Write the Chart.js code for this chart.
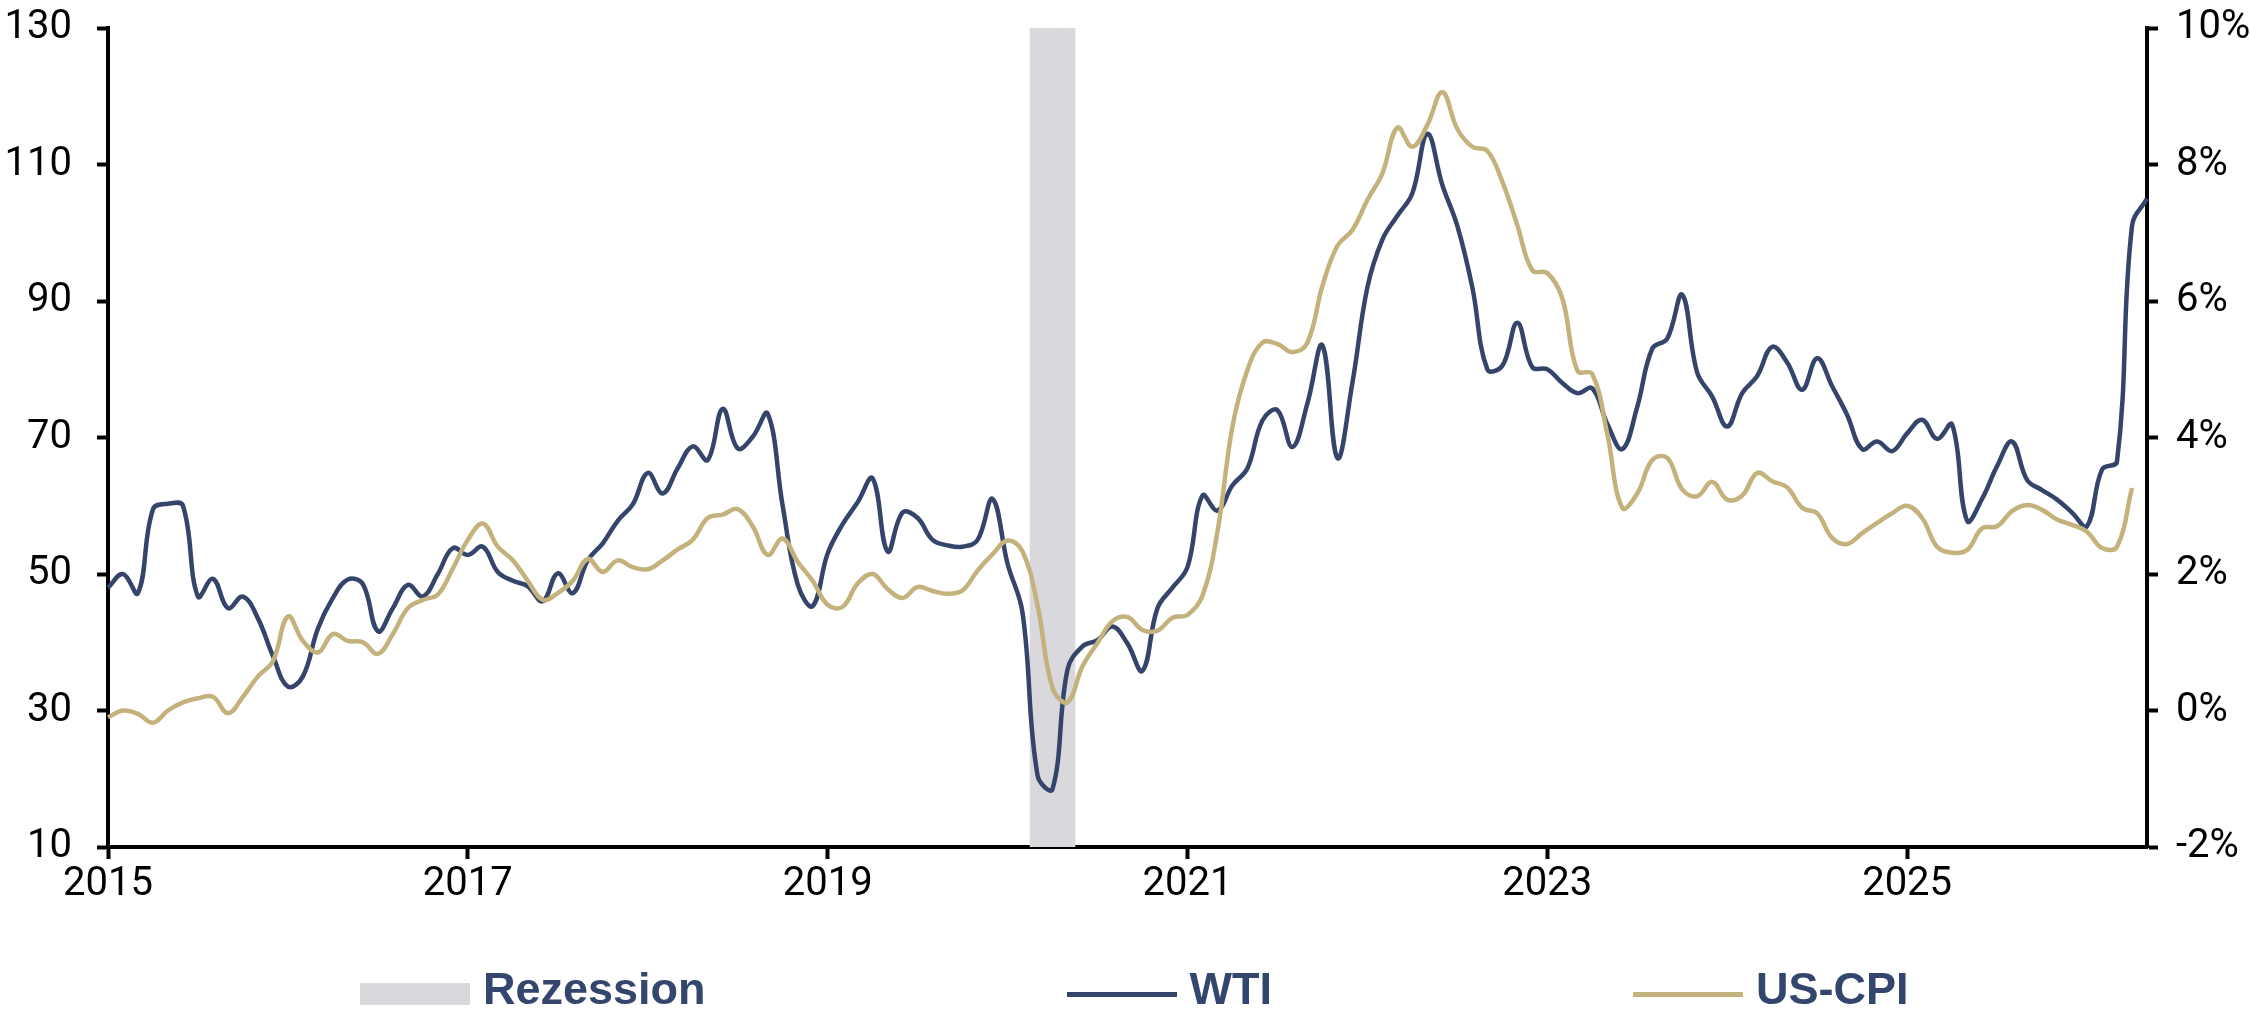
<!DOCTYPE html>
<html lang="de">
<head>
<meta charset="utf-8">
<title>WTI und US-CPI</title>
<script src="https://cdn.jsdelivr.net/npm/chart.js@4.4.1/dist/chart.umd.min.js"></script>
<style>
  html, body { margin: 0; padding: 0; background: #fff; }
  #wrap { position: relative; width: 2250px; height: 1020px; }
  #legend {
    position: absolute; left: 360px; top: 963px;
    display: flex; gap: 361px;
    font: bold 45px "Liberation Sans", Arial, sans-serif; line-height: 52px;
    color: #34466e;
  }
  .item { display: flex; align-items: center; }
  .swatch { width: 110px; margin-right: 13px; position: relative; top: 5px; }
</style>
</head>
<body>
<div id="wrap">
  <canvas id="chart" width="2250" height="1020"></canvas>
  <div id="legend"></div>
</div>
<script>
// Monatswerte ab Jan 2015
const startYear = 2015;

// WTI in USD/Barrel (linke Achse)
const wti = [
  48, 50, 47.2, 59.5, 60.3, 60, 46.7, 49.3, 45, 46.7, 43.5, 38,
  33.5, 35, 42, 46.5, 49.2, 48.5, 41.6, 45, 48.4, 46.7, 50, 53.8,
  52.8, 54, 50.3, 49, 48.2, 46, 50.1, 47.2, 52, 54.5, 57.8, 60.2,
  64.8, 61.8, 65.5, 68.7, 66.7, 74.2, 68.4, 70.1, 73.5, 60, 48.5, 45.3,
  53, 57.3, 60.5, 64, 53.3, 59, 58.2, 55, 54.2, 54, 55, 61,
  51.5, 44.3, 20.5, 18.5, 36, 39.4, 40.3, 42.3, 39.8, 35.8, 45, 48,
  51, 61.5, 59.3, 63, 65.5, 72.5, 74, 68.6, 75, 83.5, 67, 78,
  92, 99, 102.5, 105.8, 114.5, 107, 101, 92, 80, 80.5, 86.8, 80.3,
  80, 78, 76.5, 77.2, 72, 68.3, 74.5, 83, 84.5, 90.9, 79.5, 76,
  71.6, 76.5, 79, 83.3, 81, 77, 81.6, 77.5, 73.3, 68.3, 69.4, 68,
  70.6, 72.6, 69.8, 71.9, 57.8, 61, 65.8, 69.4, 63.8, 62.3, 60.9, 59,
  57, 65.3, 66.5, 101, 105
];

// US-Inflation in % ggü. Vorjahr (rechte Achse)
const cpi = [
  -0.1, 0.0, -0.05, -0.18, 0.0, 0.12, 0.18, 0.2, -0.04, 0.2, 0.5, 0.72,
  1.38, 1.02, 0.85, 1.12, 1.02, 1.0, 0.83, 1.12, 1.5, 1.62, 1.7, 2.08,
  2.5, 2.74, 2.4, 2.2, 1.9, 1.62, 1.72, 1.9, 2.22, 2.03, 2.2, 2.1,
  2.07, 2.2, 2.36, 2.5, 2.82, 2.87, 2.95, 2.7, 2.28, 2.52, 2.18, 1.9,
  1.55, 1.52, 1.86, 2.0, 1.78, 1.65, 1.81, 1.75, 1.71, 1.76, 2.05, 2.29,
  2.49, 2.33, 1.54, 0.33, 0.12, 0.65, 0.99, 1.31, 1.37, 1.18, 1.17, 1.36,
  1.4, 1.68, 2.62, 4.16, 4.99, 5.39, 5.37, 5.25, 5.39, 6.22, 6.81, 7.04,
  7.48, 7.87, 8.54, 8.26, 8.58, 9.06, 8.52, 8.26, 8.2, 7.75, 7.11, 6.45,
  6.41, 6.04, 4.98, 4.93, 4.05, 2.97, 3.18, 3.67, 3.7, 3.24, 3.14, 3.35,
  3.09, 3.15, 3.48, 3.36, 3.27, 2.97, 2.89, 2.53, 2.44, 2.6, 2.75, 2.89,
  3.0, 2.82, 2.4, 2.31, 2.35, 2.67, 2.7, 2.92, 3.01, 2.94, 2.8, 2.72,
  2.62, 2.38, 2.4, 3.26
];

// Rezessionsmonate (grauer Balken)
const recessionMonths = ['2020-03', '2020-04', '2020-05'];

// Achsenbeschriftungen
const yearTicks = ['2015', '2017', '2019', '2021', '2023', '2025'];
const leftRange = [10, 130, 20];
const rightRange = [-2, 10, 2];

const months = [];
for (let k = 0; k < wti.length; k++) {
  months.push((startYear + Math.floor(k / 12)) + '-' + String(k % 12 + 1).padStart(2, '0'));
}

const colors = { wti: '#34446b', cpi: '#c4b27c', rec: '#d9d8dc', axis: '#000' };
const tickFont = { family: 'Roboto, "Liberation Sans", Arial, sans-serif', size: 40 };
// winzige Zeilenhöhe, damit die y-Beschriftung oben keinen Extraplatz reserviert
const yTickFont = { family: tickFont.family, size: 40, lineHeight: 0.1 };

function isYearTick(i) {
  const l = months[i];
  return !!l && l.endsWith('-01') && yearTicks.includes(l.slice(0, 4));
}

const chart = new Chart(document.getElementById('chart'), {
  type: 'line',
  data: {
    labels: months,
    datasets: [
      {
        type: 'bar', label: 'Rezession', yAxisID: 'y', order: 3,
        data: months.map(m => recessionMonths.includes(m) ? [leftRange[0], leftRange[1]] : null),
        backgroundColor: colors.rec, borderWidth: 0,
        barPercentage: 1, categoryPercentage: 1
      },
      {
        label: 'WTI', data: wti, yAxisID: 'y', order: 2,
        borderColor: colors.wti, borderWidth: 4.5, pointRadius: 0, tension: 0.4
      },
      {
        label: 'US-CPI', data: cpi, yAxisID: 'y1', order: 1,
        borderColor: colors.cpi, borderWidth: 4.5, pointRadius: 0, tension: 0.4
      }
    ]
  },
  options: {
    responsive: false,
    animation: false,
    layout: { padding: { top: 28, left: 0, right: 0, bottom: 0 } },
    plugins: { legend: { display: false }, tooltip: { enabled: false } },
    scales: {
      x: {
        type: 'category', offset: false,
        grid: {
          offset: false, drawOnChartArea: false, tickLength: 12, tickWidth: 4,
          tickColor: ctx => isYearTick(ctx.index) ? colors.axis : 'rgba(0,0,0,0)'
        },
        border: { display: true, color: colors.axis, width: 4 },
        ticks: {
          autoSkip: false, maxRotation: 0, padding: 2, color: '#000', font: tickFont,
          callback: (v, i) => isYearTick(i) ? months[i].slice(0, 4) : ''
        },
        afterFit: s => { s.height = 173; }
      },
      y: {
        position: 'left', min: leftRange[0], max: leftRange[1],
        grid: { drawOnChartArea: false, tickLength: 11, tickWidth: 4, tickColor: colors.axis },
        border: { display: true, color: colors.axis, width: 4 },
        ticks: { stepSize: leftRange[2], padding: 25, color: '#000', font: yTickFont },
        afterFit: s => { s.width = 108; }
      },
      y1: {
        position: 'right', min: rightRange[0], max: rightRange[1],
        grid: { drawOnChartArea: false, tickLength: 11, tickWidth: 4, tickColor: colors.axis },
        border: { display: true, color: colors.axis, width: 4 },
        ticks: { stepSize: rightRange[2], padding: 18, color: '#000', font: yTickFont, callback: v => v + '%' },
        afterFit: s => { s.width = 103; }
      }
    }
  }
});

// Legende unter dem Diagramm
document.getElementById('legend').innerHTML = chart.data.datasets.map(ds => {
  const sw = ds.type === 'bar'
    ? `<span class="swatch" style="height:22px;background:${ds.backgroundColor}"></span>`
    : `<span class="swatch" style="height:5px;background:${ds.borderColor}"></span>`;
  return `<span class="item">${sw}<span>${ds.label}</span></span>`;
}).join('');
</script>
</body>
</html>
